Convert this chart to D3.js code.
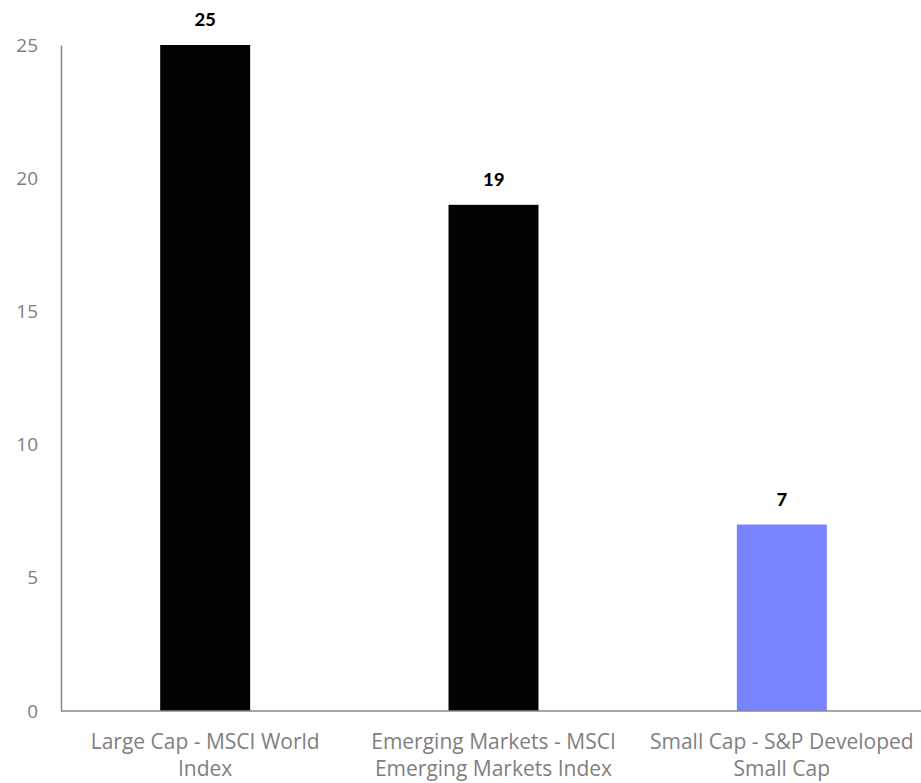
<!DOCTYPE html>
<html>
<head>
<meta charset="utf-8">
<script src="https://cdn.jsdelivr.net/npm/d3@7"></script>
<style>
  body { margin: 0; background: #fff; }
  svg { display: block; font-family: "Open Sans", sans-serif; }
</style>
</head>
<body>
<div id="chart"></div>
<script>
// данные графика
const categories = [
    ["Large Cap - MSCI World", "Index"],
    ["Emerging Markets - MSCI", "Emerging Markets Index"],
    ["Small Cap - S&P Developed", "Small Cap"]
];
const values = [25, 19, 7];
const colors = ["#000000", "#000000", "#7783ff"];
const yTicks = [0, 5, 10, 15, 20, 25];

const width = 921;
const height = 783;
const marginLeft = 61;
const marginTop = 45;
const baseY = 711;

const svg = d3.select("#chart").append("svg")
    .attr("width", width)
    .attr("height", height);

// оси
const x = d3.scaleBand()
    .domain(d3.range(values.length))
    .range([marginLeft, 926])
    .paddingInner(0.688)
    .paddingOuter(0.344);

const y = d3.scaleLinear()
    .domain([0, 25])
    .range([baseY, marginTop]);

// столбцы
svg.selectAll("rect.bar")
    .data(values)
    .enter()
    .append("rect")
    .attr("class", "bar")
    .attr("x", (d, i) => x(i))
    .attr("width", x.bandwidth())
    .attr("y", d => y(d))
    .attr("height", d => y(0) - y(d))
    .attr("fill", (d, i) => colors[i]);

// подписи значений
svg.selectAll("text.value")
    .data(values)
    .enter()
    .append("text")
    .attr("class", "value")
    .attr("x", (d, i) => x(i) + x.bandwidth() / 2)
    .attr("y", d => y(d) - 19)
    .attr("text-anchor", "middle")
    .attr("font-family", "Carlito, Lato, sans-serif")
    .attr("font-size", 21)
    .attr("font-weight", "bold")
    .attr("fill", "#000")
    .text(d => d);

// ось Y
const yAxis = svg.append("g")
    .attr("transform", `translate(${marginLeft},0)`)
    .call(d3.axisLeft(y).tickValues(yTicks).tickSize(0).tickPadding(23));
yAxis.attr("font-family", null).attr("font-size", null);
yAxis.select(".domain").attr("stroke", "#898989").attr("stroke-width", 1.5);
yAxis.selectAll("text").attr("fill", "#7f7f7f").attr("font-size", 19);

// базовая линия
svg.append("line")
    .attr("x1", marginLeft)
    .attr("x2", width)
    .attr("y1", y(0))
    .attr("y2", y(0))
    .attr("stroke", "#898989")
    .attr("stroke-width", 1.5);

// подписи категорий
const cat = svg.selectAll("text.cat")
    .data(categories)
    .enter()
    .append("text")
    .attr("class", "cat")
    .attr("text-anchor", "middle")
    .attr("font-size", 21)
    .attr("fill", "#7f7f7f");

cat.selectAll("tspan")
    .data((d, i) => d.map(t => ({ t, i })))
    .enter()
    .append("tspan")
    .attr("x", d => x(d.i) + x.bandwidth() / 2)
    .attr("y", (d, j) => baseY + 38 + j * 27)
    .text(d => d.t);
</script>
</body>
</html>
